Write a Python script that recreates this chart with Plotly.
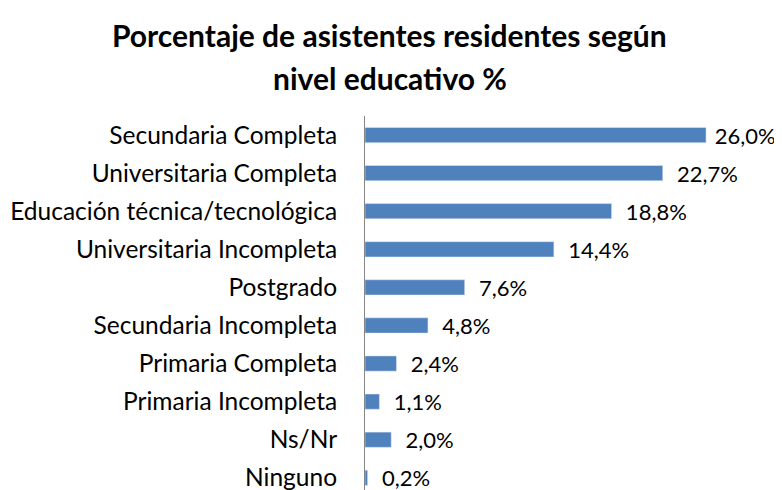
import plotly.graph_objects as go

categorias = [
    "Secundaria Completa",
    "Universitaria Completa",
    "Educación técnica/tecnológica",
    "Universitaria Incompleta",
    "Postgrado",
    "Secundaria Incompleta",
    "Primaria Completa",
    "Primaria Incompleta",
    "Ns/Nr",
    "Ninguno",
]
porcentajes = [26.0, 22.7, 18.8, 14.4, 7.6, 4.8, 2.4, 1.1, 2.0, 0.2]

etiquetas = ["  " + f"{v:.1f}".replace(".", ",") + "%" for v in porcentajes]
# the longest bar's label sits closer to the bar so it fits in the page
etiquetas[0] = " " + etiquetas[0].strip()

fig = go.Figure(
    go.Bar(
        x=porcentajes,
        y=categorias,
        orientation="h",
        marker_color="#4F81BD",
        text=etiquetas,
        textposition="outside",
        textfont=dict(size=22, color="black"),
        constraintext="none",
        cliponaxis=False,
    )
)

# page body has an 8px margin, so everything is shifted by -8
fig.update_layout(
    width=782,
    height=490,
    margin=dict(l=357, r=0, t=108, b=8, autoexpand=False),
    plot_bgcolor="white",
    paper_bgcolor="white",
    font=dict(family="Lato", color="black"),
    bargap=0.6,
    showlegend=False,
)
titulo = ["Porcentaje de asistentes residentes según", "nivel educativo %"]
for txt, yy in zip(titulo, [1.2166, 1.1016]):
    fig.add_annotation(
        text="<b>" + txt + "</b>",
        xref="paper", yref="paper",
        x=0.0588, y=yy,
        xanchor="center", yanchor="middle",
        showarrow=False,
        font=dict(size=30, family="Lato", color="black"),
    )

fig.update_xaxes(range=[0, 32.4], visible=False)
fig.update_yaxes(
    autorange=False,
    range=[9.32, -0.5],
    showline=True,
    linecolor="#868686",
    linewidth=1,
    ticks="",
    ticklabelstandoff=22,
    tickfont=dict(size=24.5, family="Lato", color="black"),
    showgrid=False,
)

fig.write_html("out.html")
